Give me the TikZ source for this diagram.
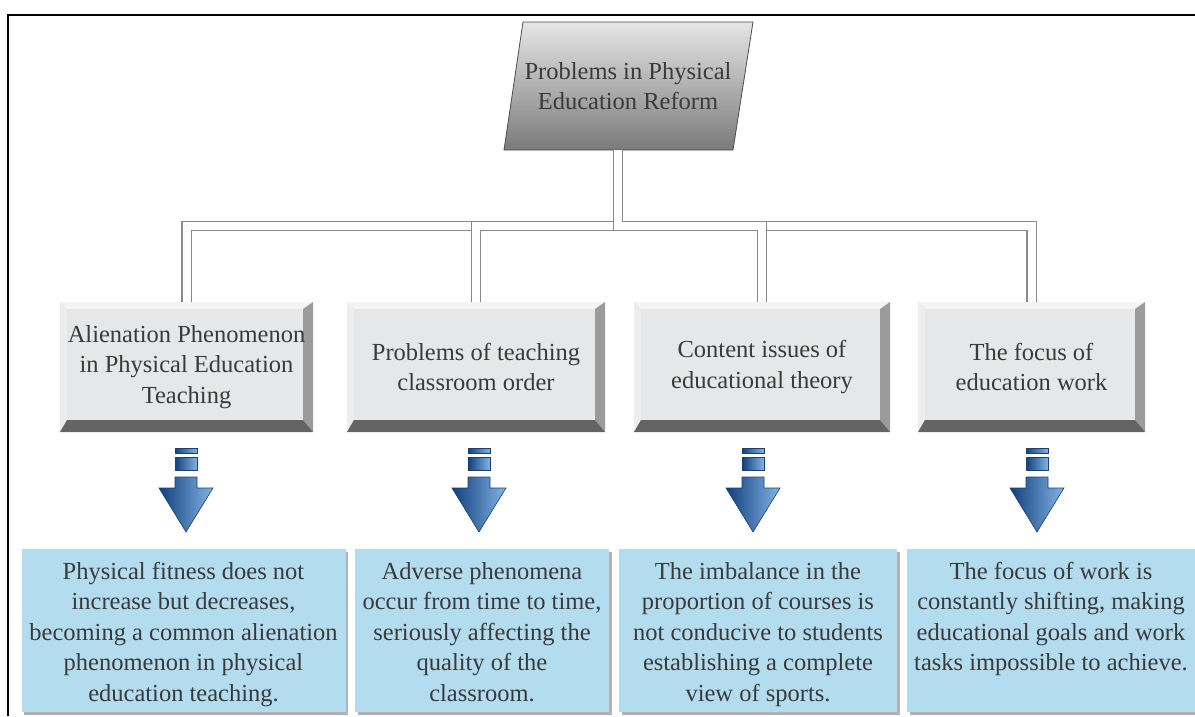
\documentclass[tikz,border=0pt]{standalone}
\usepackage{fontspec}
\setmainfont{Liberation Serif}
\usetikzlibrary{shadows}
\definecolor{ink}{HTML}{3A3A3A}
\definecolor{face}{HTML}{E6E7E8}
\definecolor{bevtop}{HTML}{F4F4F4}
\definecolor{bevleft}{HTML}{EDEDED}
\definecolor{bevright}{HTML}{9B9B9B}
\definecolor{bevbot}{HTML}{646464}
\definecolor{noteblue}{HTML}{B3DCEF}
\definecolor{linkgray}{HTML}{8A8A8A}
\definecolor{arrowdark}{HTML}{123F7C}
\definecolor{arrowlight}{HTML}{82B4E6}
\definecolor{arrowedge}{HTML}{1E3F6C}
\newcommand{\notetext}[2]{\parbox[t][163pt][t]{#1}{\centering\vspace*{13pt}#2}}
\begin{document}
\begin{tikzpicture}[x=1pt,y=-1pt,
  every node/.style={font=\fontsize{24.5}{30.5}\selectfont,text=ink,align=center,inner sep=0pt},
  childbox/.style={minimum height=130pt,fill=face,path picture={
    \path (path picture bounding box.north west) coordinate (nw)
          (path picture bounding box.north east) coordinate (ne)
          (path picture bounding box.south west) coordinate (sw)
          (path picture bounding box.south east) coordinate (se);
    \fill[bevtop] (nw) -- (ne) -- ([shift={(-10pt,-7pt)}]ne) -- ([shift={(7pt,-7pt)}]nw) -- cycle;
    \fill[bevleft] (nw) -- ([shift={(7pt,-7pt)}]nw) -- ([shift={(7pt,12pt)}]sw) -- (sw) -- cycle;
    \fill[bevright] (ne) -- (se) -- ([shift={(-10pt,12pt)}]se) -- ([shift={(-10pt,-7pt)}]ne) -- cycle;
    \fill[bevbot] (sw) -- ([shift={(7pt,12pt)}]sw) -- ([shift={(-10pt,12pt)}]se) -- (se) -- cycle;}},
  notebox/.style={fill=noteblue,anchor=north,drop shadow={shadow xshift=2.5pt,shadow yshift=-2.5pt,fill=black!30,opacity=1}},
  link/.style={draw=linkgray,line width=1.3pt,double=white,double distance=8pt},
  arrowfill/.style={left color=arrowdark,right color=arrowlight,draw=arrowedge,line width=0.6pt},
  downarrow/.pic={
    \shade[arrowfill] (-11,0) rectangle (11,5);
    \shade[arrowfill] (-11,9) rectangle (11,22);
    \shade[arrowfill] (-11,29) -- (11,29) -- (11,40) -- (27,40) -- (0,84) -- (-27,40) -- (-11,40) -- cycle;
  }]
\useasboundingbox (0,0) rectangle (1195,716);
\draw[line width=2.2pt](8,716)--(8,15)--(1195,15);
%
\shade[top color=black!10,bottom color=black!52,draw=black!70,line width=0.8pt](523,22)--(753,22)--(733,150)--(504,150)--cycle;
\node[minimum width=230pt,minimum height=128pt](top) at (628,86){Problems in Physical\\Education Reform};
%
\node[childbox,minimum width=253pt](c1) at (186.5,367){Alienation Phenomenon\\in Physical Education\\Teaching};
\node[childbox,minimum width=258pt](c2) at (476,367){Problems of teaching\\classroom order};
\node[childbox,minimum width=256pt](c3) at (762,367){Content issues of\\educational theory};
\node[childbox,minimum width=227pt](c4) at (1031.5,367){The focus of\\education work};
%
\coordinate(bus) at (618,226);
\draw[link]([xshift=-10pt]top.south)--(bus)-|(c1.north);
\draw[link]([xshift=-10pt]top.south)--(bus)-|(c4.north);
\draw[link]([xshift=-10pt]top.south)--(bus)-|(c2.north);
\draw[link]([xshift=-10pt]top.south)--(bus)-|(c3.north);
%
\pic at (186,448){downarrow};
\pic at (479,448){downarrow};
\pic at (753,448){downarrow};
\pic at (1037,448){downarrow};
%
\node[notebox](n1) at (183.5,549){\notetext{324pt}{Physical fitness does not\\increase but decreases,\\becoming a common alienation\\phenomenon in physical\\education teaching.}};
\node[notebox](n2) at (482,549){\notetext{254pt}{Adverse phenomena\\occur from time to time,\\seriously affecting the\\quality of the\\classroom.}};
\node[notebox](n3) at (758,549){\notetext{278pt}{The imbalance in the\\proportion of courses is\\not conducive to students\\establishing a complete\\view of sports.}};
\node[notebox](n4) at (1051,549){\notetext{288pt}{The focus of work is\\constantly shifting, making\\educational goals and work\\tasks impossible to achieve.}};
\end{tikzpicture}
\end{document}
